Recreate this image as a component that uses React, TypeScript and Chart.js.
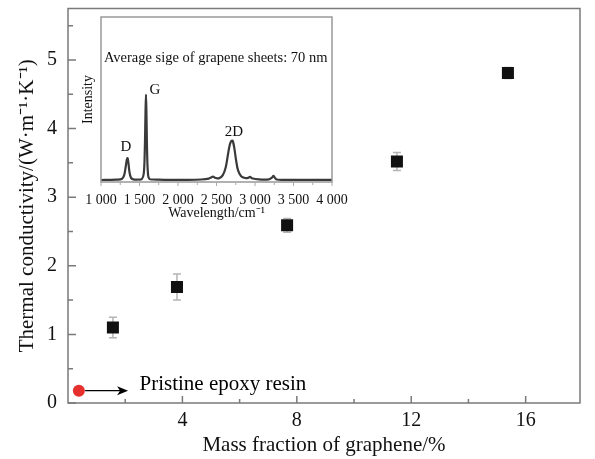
import React, { useEffect, useRef } from 'react';
import { Chart, registerables } from 'chart.js';

Chart.register(...registerables);

// ---------- main chart data ----------
const massFraction = [1.57, 3.81, 7.66, 11.5, 15.38];
const conductivity = [1.1, 1.69, 2.59, 3.52, 4.81];
const conductivityErr = [0.15, 0.19, 0.1, 0.13, 0.08];
const epoxyFraction = [0.38];
const epoxyConductivity = [0.18];
const epoxyLabel = 'Pristine epoxy resin';
const xMajorTicks = [4, 8, 12, 16];
const xMinorTicks = [2, 6, 10, 14];
const yMajorTicks = [0, 1, 2, 3, 4, 5];
const yMinorTicks = [0.5, 1.5, 2.5, 3.5, 4.5, 5.5];
const xTitle = 'Mass fraction of graphene/%';
const yTitle = 'Thermal conductivity/(W\u00b7m\u207b\u00b9\u00b7K\u207b\u00b9)';

// ---------- inset (Raman spectrum) data ----------
const ramanShift = [
  1000, 1100, 1200, 1270, 1300, 1320, 1335, 1345, 1355, 1370, 1390, 1420, 1480, 1530, 1555,
  1568, 1578, 1584, 1590, 1600, 1612, 1630, 1670, 1750, 1900, 2100, 2300, 2400, 2430, 2455,
  2480, 2530, 2580, 2620, 2650, 2675, 2695, 2710, 2730, 2755, 2780, 2820, 2870, 2910, 2935,
  2960, 3050, 3180, 3220, 3238, 3255, 3280, 3400, 3700, 4000,
];
const ramanIntensity = [
  1.2, 1.3, 1.4, 1.8, 4, 9, 13.5, 14.5, 12, 6, 2.5, 1.6, 1.5, 1.8, 5,
  18, 42, 53, 42, 16, 4, 1.8, 1.5, 1.4, 1.3, 1.3, 1.5, 2.0, 2.8, 3.2,
  2.6, 2.2, 4, 9, 17, 23, 25, 25, 21, 13, 7, 3.5, 2.4, 2.5, 3.1,
  2.3, 1.6, 1.6, 2.6, 3.8, 2.8, 1.5, 1.3, 1.3, 1.3,
];
const insetTickValues = [1000, 1500, 2000, 2500, 3000, 3500, 4000];
const insetTickLabels = ['1 000', '1 500', '2 000', '2 500', '3 000', '3 500', '4 000'];
const insetMinorTicks = [1250, 1750, 2250, 2750, 3250, 3750];
const peakNames = ['D', 'G', '2D'];
const insetTitle = 'Average sige of grapene sheets: 70 nm';

const FONT = "'Liberation Serif', 'Times New Roman', serif";
const AXIS_COLOR = '#7a7a7a';

const mainPlugin = {
  id: 'mainDecor',
  beforeDatasetsDraw(chart: any) {
    const { ctx, scales } = chart;
    const xs = scales.x;
    const ys = scales.y;
    ctx.save();
    ctx.strokeStyle = '#b4b4b4';
    ctx.lineWidth = 1.5;
    massFraction.forEach((xv, i) => {
      const px = xs.getPixelForValue(xv);
      const y1 = ys.getPixelForValue(conductivity[i] - conductivityErr[i]);
      const y2 = ys.getPixelForValue(conductivity[i] + conductivityErr[i]);
      ctx.beginPath();
      ctx.moveTo(px, y1);
      ctx.lineTo(px, y2);
      ctx.moveTo(px - 4, y1);
      ctx.lineTo(px + 4, y1);
      ctx.moveTo(px - 4, y2);
      ctx.lineTo(px + 4, y2);
      ctx.stroke();
    });
    ctx.restore();
  },
  afterDatasetsDraw(chart: any) {
    const { ctx, chartArea: a, scales } = chart;
    const xs = scales.x;
    const ys = scales.y;
    ctx.save();
    // frame
    ctx.strokeStyle = AXIS_COLOR;
    ctx.lineWidth = 1.5;
    ctx.strokeRect(a.left, a.top, a.right - a.left, a.bottom - a.top);
    // inward ticks
    ctx.beginPath();
    yMajorTicks.forEach((v) => {
      const y = ys.getPixelForValue(v);
      ctx.moveTo(a.left, y);
      ctx.lineTo(a.left + 8, y);
    });
    yMinorTicks.forEach((v) => {
      const y = ys.getPixelForValue(v);
      ctx.moveTo(a.left, y);
      ctx.lineTo(a.left + 5, y);
    });
    xMajorTicks.forEach((v) => {
      const x = xs.getPixelForValue(v);
      ctx.moveTo(x, a.bottom);
      ctx.lineTo(x, a.bottom - 7);
    });
    xMinorTicks.forEach((v) => {
      const x = xs.getPixelForValue(v);
      ctx.moveTo(x, a.bottom);
      ctx.lineTo(x, a.bottom - 4);
    });
    ctx.stroke();
    // arrow from epoxy point
    const ay = ys.getPixelForValue(epoxyConductivity[0]);
    const ax1 = xs.getPixelForValue(0.6);
    const ax2 = xs.getPixelForValue(2.1);
    ctx.strokeStyle = '#000';
    ctx.fillStyle = '#000';
    ctx.lineWidth = 1.3;
    ctx.beginPath();
    ctx.moveTo(ax1, ay);
    ctx.lineTo(ax2 - 4, ay);
    ctx.stroke();
    ctx.beginPath();
    ctx.moveTo(ax2, ay);
    ctx.lineTo(ax2 - 11, ay - 4.5);
    ctx.lineTo(ax2 - 8, ay);
    ctx.lineTo(ax2 - 11, ay + 4.5);
    ctx.closePath();
    ctx.fill();
    // label
    ctx.font = `21px ${FONT}`;
    ctx.textBaseline = 'alphabetic';
    ctx.textAlign = 'left';
    ctx.fillText(epoxyLabel, xs.getPixelForValue(2.5), ys.getPixelForValue(0.19));
    ctx.restore();
  },
};

const insetPlugin = {
  id: 'insetDecor',
  afterDatasetsDraw(chart: any) {
    const { ctx, chartArea: a, scales } = chart;
    const xs = scales.x;
    const ys = scales.y;
    ctx.save();
    ctx.strokeStyle = '#999';
    ctx.lineWidth = 1.5;
    ctx.strokeRect(a.left, a.top, a.right - a.left, a.bottom - a.top);
    ctx.lineWidth = 1;
    ctx.strokeStyle = '#aaa';
    ctx.beginPath();
    insetTickValues.forEach((v) => {
      const x = xs.getPixelForValue(v);
      ctx.moveTo(x, a.bottom);
      ctx.lineTo(x, a.bottom + 4);
    });
    insetMinorTicks.forEach((v) => {
      const x = xs.getPixelForValue(v);
      ctx.moveTo(x, a.bottom);
      ctx.lineTo(x, a.bottom + 3);
    });
    ctx.stroke();
    ctx.fillStyle = '#111';
    ctx.textAlign = 'center';
    ctx.textBaseline = 'middle';
    ctx.font = `14.5px ${FONT}`;
    ctx.fillText(insetTitle, xs.getPixelForValue(2490), ys.getPixelForValue(75));
    ctx.font = `15px ${FONT}`;
    const labelAnchors = [
      [1325, 21],
      [1701, 56],
      [2727, 30],
    ];
    peakNames.forEach((n, i) => {
      ctx.fillText(n, xs.getPixelForValue(labelAnchors[i][0]), ys.getPixelForValue(labelAnchors[i][1]));
    });
    ctx.restore();
  },
};

export default function App() {
  const mainRef = useRef<HTMLCanvasElement>(null);
  const insetRef = useRef<HTMLCanvasElement>(null);

  useEffect(() => {
    Chart.defaults.font.family = FONT;
    Chart.defaults.color = '#111';

    const main = new Chart(mainRef.current as HTMLCanvasElement, {
      type: 'scatter',
      data: {
        datasets: [
          {
            label: 'Graphene/epoxy',
            data: massFraction.map((x, i) => ({ x, y: conductivity[i] })),
            pointStyle: 'rect',
            pointRadius: 8.5,
            backgroundColor: '#111',
            borderColor: '#111',
            borderWidth: 0,
          },
          {
            label: epoxyLabel,
            data: epoxyFraction.map((x, i) => ({ x, y: epoxyConductivity[i] })),
            pointStyle: 'circle',
            pointRadius: 6,
            backgroundColor: '#e5302e',
            borderColor: '#e5302e',
            borderWidth: 0,
          },
        ],
      },
      options: {
        animation: false,
        responsive: false,
        layout: { padding: { top: 8, right: 15, left: 0, bottom: 0 } },
        plugins: { legend: { display: false }, tooltip: { enabled: false } },
        scales: {
          x: {
            type: 'linear',
            min: 0,
            max: 17.9,
            grid: { display: false, drawTicks: false },
            border: { display: false },
            afterBuildTicks: (s: any) => {
              s.ticks = xMajorTicks.map((v) => ({ value: v }));
            },
            afterFit: (s: any) => {
              s.height = 56;
              s.paddingLeft = 0;
              s.paddingRight = 0;
            },
            ticks: { font: { size: 20 }, color: '#111', padding: 6, maxRotation: 0, autoSkip: false },
            title: { display: true, text: xTitle, font: { size: 21 }, color: '#111', padding: { bottom: 1, top: 0 } },
          },
          y: {
            type: 'linear',
            min: 0,
            max: 5.75,
            grid: { display: false, drawTicks: false },
            border: { display: false },
            afterBuildTicks: (s: any) => {
              s.ticks = yMajorTicks.map((v) => ({ value: v }));
            },
            afterFit: (s: any) => {
              s.width = 68;
              s.paddingTop = 0;
              s.paddingBottom = 0;
            },
            ticks: { font: { size: 20 }, color: '#111', padding: 11 },
            title: { display: true, text: yTitle, font: { size: 21 }, color: '#111', padding: { top: 15, bottom: 0 } },
          },
        },
      },
      plugins: [mainPlugin],
    });

    const inset = new Chart(insetRef.current as HTMLCanvasElement, {
      type: 'line',
      data: {
        datasets: [
          {
            label: 'Raman',
            data: ramanShift.map((x, i) => ({ x, y: ramanIntensity[i] })),
            borderColor: '#3a3a3a',
            borderWidth: 2.2,
            pointRadius: 0,
            tension: 0.35,
            fill: false,
          },
        ],
      },
      options: {
        animation: false,
        responsive: false,
        layout: { padding: { top: 7, right: 21, left: 0, bottom: 0 } },
        plugins: { legend: { display: false }, tooltip: { enabled: false } },
        scales: {
          x: {
            type: 'linear',
            min: 1000,
            max: 4000,
            grid: { display: false, drawTicks: false },
            border: { display: false },
            afterBuildTicks: (s: any) => {
              s.ticks = insetTickValues.map((v) => ({ value: v }));
            },
            afterFit: (s: any) => {
              s.height = 43;
              s.paddingLeft = 0;
              s.paddingRight = 0;
            },
            ticks: {
              font: { size: 14 },
              color: '#111',
              padding: 10,
              maxRotation: 0,
              autoSkip: false,
              callback: (v: any) => insetTickLabels[insetTickValues.indexOf(Number(v))] ?? '',
            },
            title: { display: true, text: 'Wavelength/cm\u207b\u00b9', font: { size: 14 }, color: '#111', padding: { bottom: 3, top: 0 } },
          },
          y: {
            type: 'linear',
            min: 0,
            max: 100,
            grid: { display: false, drawTicks: false },
            border: { display: false },
            ticks: { display: false },
            afterFit: (s: any) => {
              s.width = 23;
              s.paddingTop = 0;
              s.paddingBottom = 0;
            },
            title: { display: true, text: 'Intensity', font: { size: 14 }, color: '#111', padding: { top: 2, bottom: 0 } },
          },
        },
      },
      plugins: [insetPlugin],
    });

    return () => {
      main.destroy();
      inset.destroy();
    };
  }, []);

  return (
    <div style={{ position: 'fixed', left: 0, top: 0, width: 595, height: 459, background: '#fff' }}>
      <canvas ref={mainRef} width={595} height={459} style={{ position: 'absolute', left: 0, top: 0, display: 'block' }} />
      <canvas ref={insetRef} width={275} height={215} style={{ position: 'absolute', left: 78, top: 10, display: 'block' }} />
    </div>
  );
}
